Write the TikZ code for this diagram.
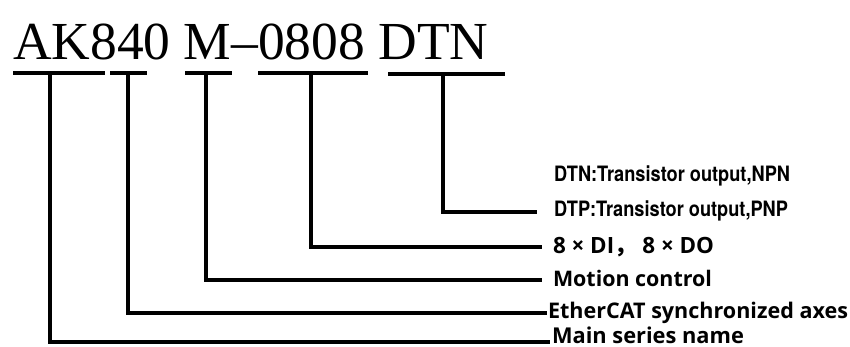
\documentclass[tikz,border=0pt]{standalone}
\usepackage{fontspec}
\setmainfont{Liberation Serif}
\newfontfamily\labfont{Open Sans}
\newfontfamily\smallfont{TeX Gyre Heros}[FakeStretch=0.86]
\newfontfamily\cjkfont{Noto Sans CJK SC}
\begin{document}
\begin{tikzpicture}[x=1pt,y=-1pt,
  bar/.style={line width=3.2pt,line cap=butt,line join=miter},
  lbl/.style={anchor=base west,inner sep=0pt,outer sep=0pt},
]
\useasboundingbox (0,0) rectangle (850,347);
% title
\node[lbl] (title) at (13,60) {\fontsize{53.5}{60}\selectfont AK840 M–0808 DTN};
% underline segments
\coordinate (a1) at (13,73);  \coordinate (b1) at (105,73); \coordinate (t1) at (50,73);
\coordinate (a2) at (110,73); \coordinate (b2) at (147,73); \coordinate (t2) at (128,73);
\coordinate (a3) at (185,73); \coordinate (b3) at (232,73); \coordinate (t3) at (206,73);
\coordinate (a4) at (258,73); \coordinate (b4) at (368,73); \coordinate (t4) at (311,73);
\coordinate (a5) at (388,74); \coordinate (b5) at (505,74); \coordinate (t5) at (443,74);
\foreach \i in {1,...,5} {\draw[bar] (a\i) -- (b\i);}
% line ends
\coordinate (e5) at (537,212);
\coordinate (e4) at (542,247);
\coordinate (e3) at (542,280);
\coordinate (e2) at (547,313);
\coordinate (e1) at (550,342);
\foreach \i in {1,...,5} {\draw[bar] (t\i) |- (e\i);}
% labels
\node[lbl] (dtn) at (554,182) {\resizebox{236pt}{!}{\smallfont\bfseries DTN:Transistor output,NPN}};
\node[lbl] (dtp) at (554,217) {\resizebox{234pt}{!}{\smallfont\bfseries DTP:Transistor output,PNP}};
\node[lbl] (io) at (553,253) {\resizebox{161pt}{!}{\labfont\bfseries 8 × DI{\cjkfont ，} 8 × DO}};
\node[lbl] (mc) at (553,286) {\resizebox{159pt}{!}{\labfont\bfseries Motion control}};
\node[lbl] (ec) at (548,318) {\resizebox{300pt}{!}{\labfont\bfseries EtherCAT synchronized axes}};
\node[lbl] (ms) at (552,343) {\resizebox{192pt}{!}{\labfont\bfseries Main series name}};
\end{tikzpicture}
\end{document}
